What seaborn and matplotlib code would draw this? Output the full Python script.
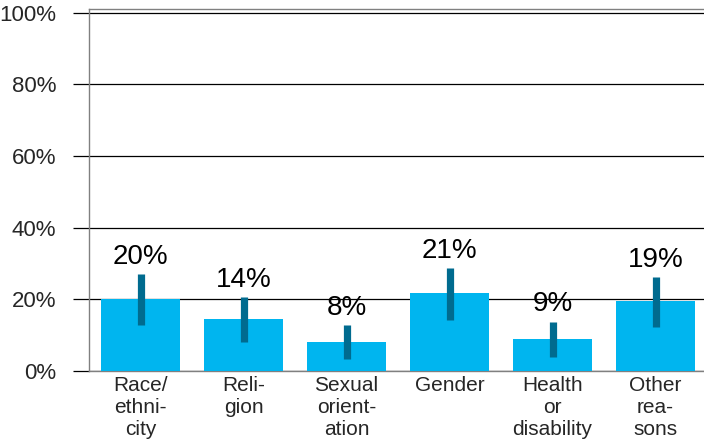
import numpy as np
import pandas as pd
import matplotlib
matplotlib.use("Agg")
import matplotlib.pyplot as plt
import seaborn as sns

# values (percent)
categories = ["Race/\nethni-\ncity", "Reli-\ngion", "Sexual\norient-\nation",
              "Gender", "Health\nor\ndisability", "Other\nrea-\nsons"]
shares = [20.0, 14.4, 8.0, 21.7, 8.9, 19.5]
err_low = [12.9, 8.0, 3.3, 14.2, 3.8, 12.2]
err_high = [27.0, 20.6, 12.7, 28.7, 13.8, 26.3]
value_labels = ["20%", "14%", "8%", "21%", "9%", "19%"]
y_ticks = [0, 20, 40, 60, 80, 100]
y_tick_labels = ["0%", "20%", "40%", "60%", "80%", "100%"]

sns.set_style("white")
plt.rcParams["font.family"] = ["Liberation Sans", "DejaVu Sans"]

df = pd.DataFrame({"category": categories, "share": shares})

fig = plt.figure(figsize=(7.04, 4.42), dpi=100)
ax = fig.add_axes([89 / 704, 1 - 371 / 442, 1 - 89 / 704, 362 / 442])

sns.barplot(data=df, x="category", y="share", color="#00B5EF", saturation=1,
            width=0.76, errorbar=None, linewidth=0, ax=ax, zorder=3)

# confidence intervals as thick dark bars
x = np.arange(len(categories))
ax.vlines(x, err_low, err_high, color="#006B8F", linewidth=5.2, zorder=4)

for xi, hi, lab in zip(x, err_high, value_labels):
    ax.annotate(lab, (xi, hi), xytext=(0, 3), textcoords="offset points",
                ha="center", va="bottom", fontsize=20, color="black")

ax.set_ylim(0, 101)
ax.set_xlim(-0.5, 5.47)
ax.set_yticks(y_ticks)
ax.set_yticklabels(y_tick_labels, fontsize=16)
ax.yaxis.grid(True, color="black", linewidth=0.9, zorder=0)
ax.set_axisbelow(True)
ax.tick_params(axis="y", left=True, length=11.5, width=0.9, color="black", pad=12)
ax.tick_params(axis="x", bottom=False, length=0, pad=3.5, labelsize=15)
for lab in ax.get_xticklabels():
    lab.set_linespacing(1.2)
ax.set_xlabel("")
ax.set_ylabel("")

for side in ["left", "top", "bottom"]:
    ax.spines[side].set_visible(True)
    ax.spines[side].set_color("#808080")
    ax.spines[side].set_linewidth(1.0)
ax.spines["right"].set_visible(False)

fig.savefig("out.png", dpi=100)
